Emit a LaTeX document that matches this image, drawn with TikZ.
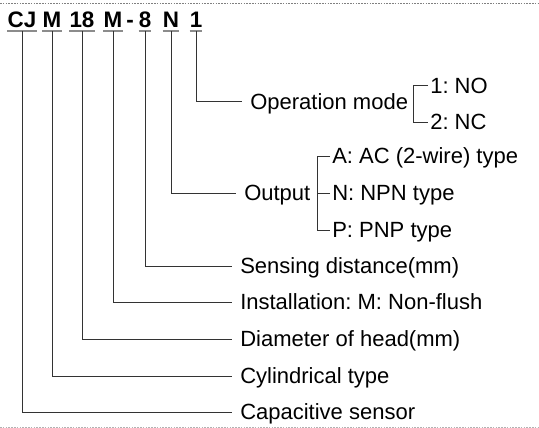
\documentclass[tikz,border=0pt]{standalone}
\usepackage{fontspec}
\setmainfont{Liberation Sans}
\usetikzlibrary{calc}
\frenchspacing

\begin{document}
\begin{tikzpicture}[x=0.75pt,y=-0.75pt,
  code/.style={font=\fontsize{16.8}{19}\selectfont\bfseries,inner sep=0pt,anchor=base},
  uline/.style={draw=black!45,line width=1.1pt},
  lead/.style={draw=black!80,line width=0.75pt},
  lbl/.style={font=\fontsize{16.5}{19}\selectfont,anchor=west,inner ysep=0pt,inner xsep=6pt,text height=11.8pt,text depth=0pt},
  opt/.style={lbl,inner xsep=1.5pt}]
\useasboundingbox (0,0) rectangle (539,428);
% page rules
\draw[black!50,line width=0.6pt,dash pattern=on 1.2pt off 0.9pt] (0,3) -- (539,3);
\draw[black!30,line width=0.6pt,dash pattern=on 1.2pt off 0.9pt] (0,427) -- (539,427);
% model code
\node[code] (cj) at (22,28) {CJ};
\node[code] (shape) at (52,28) {M};
\node[code] (dia) at (82,28) {18};
\node[code] (inst) at (113,28) {M};
\node[code] (hy) at (130,28) {-};
\node[code] (dist) at (145,28) {8};
\node[code] (out) at (171,28) {N};
\node[code] (mode) at (196,28) {1};
\foreach \t in {cj,shape,dia,inst,dist,out,mode}
  \draw[uline] ([yshift=-2.25pt]\t.base west) -- ([yshift=-2.25pt]\t.base east);
% operation mode
\node[lbl] (lmode) at (242,102) {Operation mode};
\node[opt] (no) at (428,86) {1: NO};
\node[opt] (nc) at (428,122) {2: NC};
\draw[lead] (no.west) -- ++(-15,0) |- (nc.west);
% output
\node[lbl] (lout) at (236,193) {Output};
\node[opt] (ac) at (330,156) {A: AC (2-wire) type};
\node[opt] (npn) at (330,193) {N: NPN type};
\node[opt] (pnp) at (330,230) {P: PNP type};
\draw[lead] (ac.west) -- ++(-13,0) |- (pnp.west);
\draw[lead] (npn.west) -- ++(-13,0);
% remaining fields
\node[lbl] (ldist) at (232,266) {Sensing distance(mm)};
\node[lbl] (linst) at (232,302) {Installation: M: Non-flush};
\node[lbl] (ldia) at (232,339) {Diameter of head(mm)};
\node[lbl] (lshape) at (232,376) {Cylindrical type};
\node[lbl] (lcj) at (232,412) {Capacitive sensor};
% leads
\draw[lead] ([yshift=-2.25pt]mode.base) |- (lmode.west);
\draw[lead] ([yshift=-2.25pt]out.base) |- (lout.west);
\draw[lead] ([yshift=-2.25pt]dist.base) |- (ldist.west);
\draw[lead] ([yshift=-2.25pt]inst.base) |- (linst.west);
\draw[lead] ([yshift=-2.25pt]dia.base) |- (ldia.west);
\draw[lead] ([yshift=-2.25pt]shape.base) |- (lshape.west);
\draw[lead] ([yshift=-2.25pt]cj.base) |- (lcj.west);
\end{tikzpicture}
\end{document}
